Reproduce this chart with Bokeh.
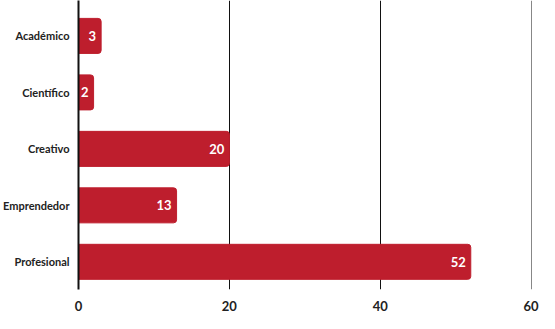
from bokeh.plotting import figure
from bokeh.models import Range1d, FixedTicker, ColumnDataSource
from bokeh.core.properties import value
from bokeh.embed import file_html
from bokeh.resources import INLINE

categories = ["Académico", "Científico", "Creativo", "Emprendedor", "Profesional"]
counts = [3, 2, 20, 13, 52]
x_ticks = [0, 20, 40, 60]

pos = list(range(len(categories)))
src = ColumnDataSource(dict(y=pos, v=counts, lab=[str(c) for c in counts]))

FONT = "Lato"
RED = "#BE1E2D"

p = figure(width=539, height=313, output_backend="svg", toolbar_location=None,
           x_range=Range1d(0, 60.05), y_range=Range1d(4.49, -0.627),
           min_border_top=0, min_border_right=8, min_border_left=0, min_border_bottom=0)
p.outline_line_color = None

p.hbar(y="y", right="v", left=0, height=0.62, source=src, color=RED,
       border_radius=(0, 3, 3, 0))
p.text(x="v", y="y", text="lab", source=src, x_offset=-5,
       text_align="right", text_baseline="middle", text_color="white",
       text_font=value(FONT), text_font_style="bold", text_font_size="13px")

p.xaxis.ticker = FixedTicker(ticks=x_ticks)
p.xaxis.axis_line_color = None
p.xaxis.major_tick_line_color = None
p.xaxis.minor_tick_line_color = None
p.xaxis.major_label_text_font = FONT
p.xaxis.major_label_text_font_style = "bold"
p.xaxis.major_label_text_font_size = "13px"
p.xaxis.major_label_text_color = "#222222"
p.xaxis.major_label_standoff = 5

p.yaxis.ticker = FixedTicker(ticks=pos)
p.yaxis.major_label_overrides = {i: c for i, c in enumerate(categories)}
p.yaxis.axis_line_color = "#111111"
p.yaxis.axis_line_width = 2
p.yaxis.major_tick_line_color = None
p.yaxis.minor_tick_line_color = None
p.yaxis.major_label_text_font = FONT
p.yaxis.major_label_text_font_style = "bold"
p.yaxis.major_label_text_font_size = "11px"
p.yaxis.major_label_text_color = "#222222"
p.yaxis.major_label_standoff = 3

p.ygrid.grid_line_color = None
p.xgrid.ticker = FixedTicker(ticks=x_ticks[1:])
p.xgrid.grid_line_color = "#111111"
p.xgrid.grid_line_width = 1
p.xgrid.grid_line_alpha = 1.0

open("out.html", "w").write(file_html(p, INLINE))
